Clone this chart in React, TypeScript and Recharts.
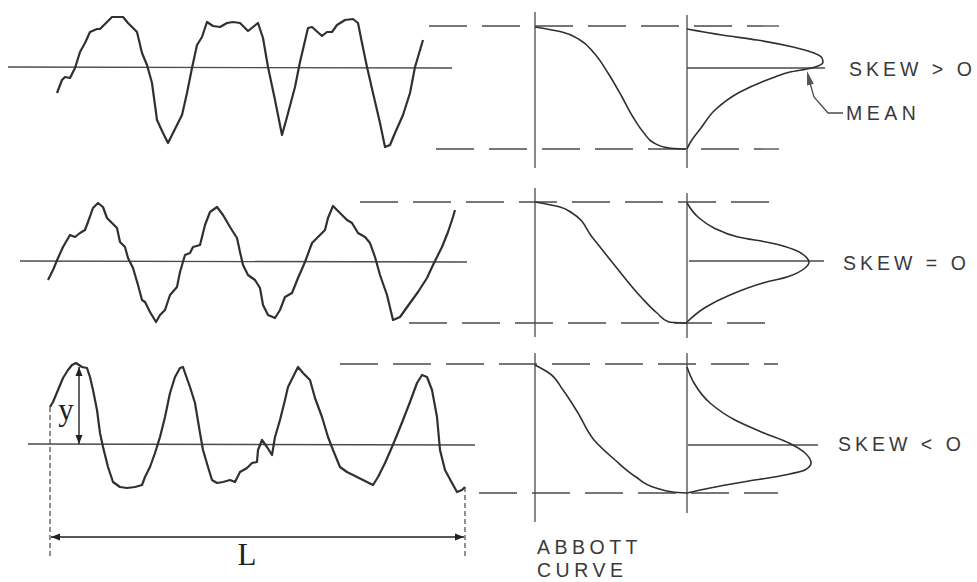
import { ComposedChart, Line, XAxis, YAxis, ReferenceLine, ReferenceDot } from 'recharts'

type Pt = [number, number]

// surface traces (x, height)
const profileSkewPos: Pt[] = [
  [57, 93], [62, 80], [65, 77], [70, 78], [75, 68], [80, 52], [85, 43], [90, 32], [97, 29], [100, 29],
  [107, 22], [112, 17], [123, 17], [128, 23], [133, 28], [137, 32], [142, 53], [147, 65], [152, 83],
  [157, 120], [163, 133], [168, 143], [173, 133], [182, 115], [187, 93], [192, 68], [197, 45], [202, 37],
  [207, 22], [213, 26], [220, 27], [227, 23], [233, 22], [240, 23], [248, 31], [258, 23], [263, 38],
  [268, 67], [275, 100], [282, 135], [287, 117], [295, 87], [300, 62], [308, 28], [312, 27], [322, 36],
  [327, 32], [332, 32], [337, 25], [345, 20], [353, 19], [358, 23], [362, 43], [367, 67], [373, 93],
  [380, 123], [385, 147], [390, 145], [395, 133], [403, 115], [410, 93], [415, 67], [423, 40]
]

const profileSkewZero: Pt[] = [
  [48, 280], [53, 270], [58, 258], [63, 247], [70, 235], [75, 237], [80, 233], [85, 230], [88, 222],
  [93, 208], [98, 203], [103, 207], [107, 218], [112, 223], [117, 228], [120, 242], [125, 247], [128, 258],
  [133, 268], [138, 285], [142, 300], [145, 302], [150, 312], [156, 322], [160, 315], [165, 310], [170, 295],
  [177, 287], [180, 272], [185, 255], [190, 253], [193, 247], [200, 245], [205, 225], [210, 212], [217, 207],
  [223, 215], [230, 227], [237, 238], [240, 252], [243, 265], [248, 275], [255, 280], [260, 288], [263, 305],
  [268, 315], [275, 318], [280, 310], [285, 297], [292, 293], [298, 278], [305, 262], [312, 243], [318, 237],
  [325, 230], [328, 218], [333, 206], [340, 213], [347, 220], [352, 223], [358, 233], [365, 237], [370, 243],
  [375, 257], [380, 275], [387, 295], [393, 320], [400, 317], [410, 303], [418, 292], [427, 278], [433, 265],
  [442, 247], [448, 232], [453, 217], [455, 210]
]

const profileSkewNeg: Pt[] = [
  [50, 407], [53, 402], [58, 390], [63, 378], [68, 370], [72, 365], [76, 363], [82, 367], [87, 368],
  [90, 377], [93, 390], [97, 410], [100, 433], [103, 447], [108, 467], [113, 482], [120, 487], [127, 488],
  [135, 487], [142, 485], [145, 477], [150, 467], [155, 453], [160, 437], [165, 417], [170, 393], [175, 377],
  [180, 368], [183, 367], [185, 373], [190, 387], [195, 403], [200, 433], [203, 450], [208, 467], [212, 480],
  [217, 483], [223, 482], [230, 480], [235, 482], [240, 472], [247, 468], [252, 463], [257, 462], [258, 450],
  [262, 440], [267, 447], [272, 455], [275, 437], [280, 420], [285, 400], [288, 387], [293, 377], [298, 367],
  [303, 373], [310, 380], [315, 398], [322, 417], [328, 437], [333, 450], [340, 467], [347, 472], [357, 477],
  [367, 482], [373, 485], [378, 477], [385, 463], [392, 447], [397, 435], [403, 420], [410, 402], [417, 383],
  [422, 375], [427, 377], [432, 390], [437, 417], [440, 450], [445, 470], [452, 483], [457, 492], [462, 490],
  [465, 487]
]

// bearing-ratio (Abbott) curves
const abbottSkewPos: Pt[] = [
  [535, 27], [562, 32], [580, 40], [594, 53], [608, 73], [622, 97], [633, 117], [644, 133], [654, 143],
  [669, 148], [686, 149]
]
const abbottSkewZero: Pt[] = [
  [535, 202], [560, 207], [572, 213], [592, 237], [616, 267], [641, 297], [657, 313], [669, 322], [687, 323]
]
const abbottSkewNeg: Pt[] = [
  [535, 365], [549, 373], [563, 390], [578, 413], [594, 440], [615, 460], [636, 477], [656, 488],
  [673, 492], [687, 493]
]

// height distributions
const densitySkewPos: Pt[] = [
  [687, 29], [722, 35], [757, 40], [793, 47], [814, 53], [822, 58], [823, 62], [818, 66], [807, 69],
  [790, 72], [775, 77], [740, 92], [715, 110], [701, 128], [690, 143], [687, 149]
]
const densitySkewZero: Pt[] = [
  [687, 203], [698, 217], [714, 228], [738, 237], [771, 243], [795, 250], [807, 258], [809, 262],
  [805, 268], [787, 277], [763, 283], [730, 295], [706, 307], [687, 322]
]
const densitySkewNeg: Pt[] = [
  [687, 367], [694, 383], [710, 403], [735, 420], [764, 433], [789, 443], [805, 453], [811, 463],
  [805, 470], [785, 475], [743, 482], [710, 488], [687, 493]
]

const meanLeader: Pt[] = [[808, 76], [814, 97], [828, 113], [843, 113]]

// straight lines, as end points
const meanLines: Pt[][] = [
  [[8, 67], [452, 68]], [[20, 261], [467, 262]], [[28, 444], [475, 445]],
  [[687, 68], [825, 68]], [[689, 261], [824, 261]], [[688, 445], [818, 445]]
]
const dashedLevels: Pt[][] = [
  [[429, 26], [779, 26]], [[436, 149], [779, 149]],
  [[360, 202], [777, 202]], [[409, 323], [777, 323]],
  [[340, 364], [778, 364]], [[479, 493], [778, 493]]
]
const axisLines: Pt[][] = [
  [[535, 12], [535, 168]], [[687, 15], [687, 168]],
  [[535, 188], [535, 337]], [[687, 193], [687, 338]],
  [[535, 353], [535, 522]], [[687, 353], [687, 513]]
]
const extentLines: Pt[][] = [[[50, 407], [50, 557]], [[465, 487], [465, 557]]]
const dimensionLines: Pt[][] = [[[51, 537], [464, 537]], [[79, 367], [79, 444]]]

// arrow tips: x, y, pointing angle
const arrowTips: [number, number, number][] = [
  [51, 537, 180], [464, 537, 0], [79, 367, -90], [79, 444, 90]
]
const meanTip: [number, number, number] = [807, 71, -104]

const skewLabels: [number, number, string][] = [
  [849, 76, 'SKEW > O'], [843, 270, 'SKEW = O'], [838, 451, 'SKEW < O']
]
const letterLabels: [number, number, string][] = [
  [846, 120, 'MEAN'], [537, 554, 'ABBOTT'], [537, 577, 'CURVE']
]
const mathLabels: [number, number, string][] = [[247, 565, 'L'], [66, 420, 'y']]

const rows = (pts: Pt[]) => pts.map(([x, y]) => ({ x, y }))

const ink = '#303030'
const thin = '#4a4a4a'

export default function App() {
  const profiles = [profileSkewPos, profileSkewZero, profileSkewNeg]
  const smooth = [abbottSkewPos, abbottSkewZero, abbottSkewNeg, densitySkewPos, densitySkewZero, densitySkewNeg]

  return (
    <div style={{ position: 'absolute', left: 0, top: 0, width: 977, height: 582, background: '#fff' }}>
      <ComposedChart width={977} height={582} margin={{ top: 0, right: 0, bottom: 0, left: 0 }}>
        <XAxis type="number" dataKey="x" domain={[0, 977]} hide allowDataOverflow />
        <YAxis type="number" dataKey="y" domain={[0, 582]} reversed hide allowDataOverflow />

        {meanLines.map((s, i) => (
          <ReferenceLine key={'m' + i} segment={s.map(([x, y]) => ({ x, y }))} stroke={thin} strokeWidth={1.3} ifOverflow="visible" />
        ))}
        {dashedLevels.map((s, i) => (
          <ReferenceLine key={'d' + i} segment={s.map(([x, y]) => ({ x, y }))} stroke={thin} strokeWidth={1.3} strokeDasharray="38 15" ifOverflow="visible" />
        ))}
        {axisLines.map((s, i) => (
          <ReferenceLine key={'a' + i} segment={s.map(([x, y]) => ({ x, y }))} stroke={thin} strokeWidth={1.3} ifOverflow="visible" />
        ))}
        {extentLines.map((s, i) => (
          <ReferenceLine key={'e' + i} segment={s.map(([x, y]) => ({ x, y }))} stroke="#222" strokeWidth={1} strokeDasharray="5 3" ifOverflow="visible" />
        ))}
        {dimensionLines.map((s, i) => (
          <ReferenceLine key={'l' + i} segment={s.map(([x, y]) => ({ x, y }))} stroke="#222" strokeWidth={1.4} ifOverflow="visible" />
        ))}

        {profiles.map((p, i) => (
          <Line key={'p' + i} data={rows(p)} dataKey="y" type="linear" stroke={ink} strokeWidth={2.2}
            strokeLinejoin="round" dot={false} activeDot={false} isAnimationActive={false} />
        ))}
        {smooth.map((p, i) => (
          <Line key={'s' + i} data={rows(p)} dataKey="y" type="monotoneY" stroke={ink} strokeWidth={1.6}
            dot={false} activeDot={false} isAnimationActive={false} />
        ))}
        <Line data={rows(meanLeader)} dataKey="y" type="linear" stroke={thin} strokeWidth={1.3}
          dot={false} activeDot={false} isAnimationActive={false} />

        {arrowTips.map(([x, y, a], i) => (
          <ReferenceDot key={'t' + i} x={x} y={y} r={0} ifOverflow="visible"
            shape={(p: any) => (
              <polygon points="0,0 -9,-3.5 -9,3.5" fill="#222" transform={`translate(${p.cx},${p.cy}) rotate(${a})`} />
            )} />
        ))}
        <ReferenceDot x={meanTip[0]} y={meanTip[1]} r={0} ifOverflow="visible"
          shape={(p: any) => (
            <polygon points="0,0 -14,-3.5 -14,3.5" fill="#555" transform={`translate(${p.cx},${p.cy}) rotate(${meanTip[2]})`} />
          )} />

        {skewLabels.map(([x, y, t], i) => (
          <ReferenceDot key={'k' + i} x={x} y={y} r={0} ifOverflow="visible"
            shape={(p: any) => (
              <text x={p.cx} y={p.cy} fill="#3a3a3a" fontFamily="Liberation Sans" fontSize={19.5} letterSpacing={4}>{t}</text>
            )} />
        ))}
        {letterLabels.map(([x, y, t], i) => (
          <ReferenceDot key={'w' + i} x={x} y={y} r={0} ifOverflow="visible"
            shape={(p: any) => (
              <text x={p.cx} y={p.cy} fill="#3a3a3a" fontFamily="Liberation Sans" fontSize={19.5} letterSpacing={4.5}>{t}</text>
            )} />
        ))}
        {mathLabels.map(([x, y, t], i) => (
          <ReferenceDot key={'v' + i} x={x} y={y} r={0} ifOverflow="visible"
            shape={(p: any) => (
              <text x={p.cx} y={p.cy} fill="#222" fontFamily="Liberation Serif" fontSize={31} textAnchor="middle">{t}</text>
            )} />
        ))}
      </ComposedChart>
    </div>
  )
}
